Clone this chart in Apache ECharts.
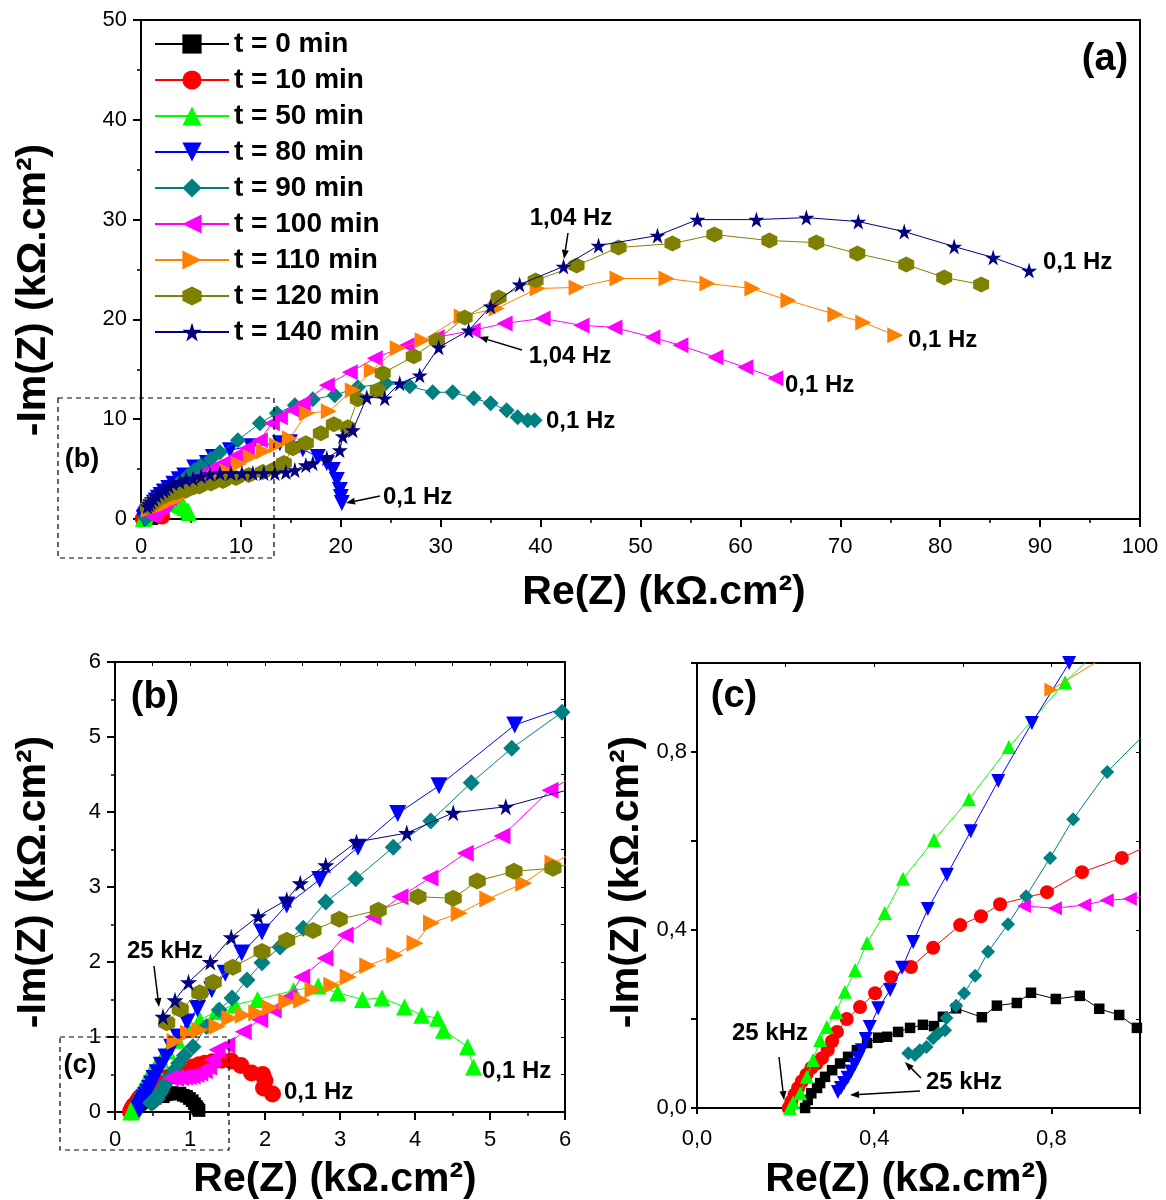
<!DOCTYPE html>
<html><head><meta charset="utf-8">
<script src="https://cdn.jsdelivr.net/npm/echarts@6/dist/echarts.min.js"></script>
<style>html,body{margin:0;padding:0;background:#fff}#c{width:1166px;height:1200px}</style>
</head><body><div id="c"></div>
<script>
const seriesNames = ['t = 0 min','t = 10 min','t = 50 min','t = 80 min','t = 90 min','t = 100 min','t = 110 min','t = 120 min','t = 140 min'];
// [Re(Z), -Im(Z)] in kOhm.cm2, high frequency -> low frequency
const t0 = [[0.244,0],[0.25,0.018],[0.258,0.033],[0.271,0.045],[0.278,0.056],[0.289,0.07],[0.305,0.085],[0.323,0.1],[0.341,0.115],[0.361,0.13],[0.384,0.146],[0.409,0.158],[0.429,0.16],[0.454,0.171],[0.481,0.18],[0.51,0.187],[0.535,0.184],[0.555,0.205],[0.585,0.224],[0.643,0.204],[0.677,0.23],[0.722,0.236],[0.754,0.259],[0.81,0.245],[0.864,0.252],[0.908,0.223],[0.953,0.209],[0.993,0.18],[1.03,0.15],[1.06,0.11],[1.085,0.075],[1.105,0.045],[1.12,0.02]];
const t10 = [[0.207,0],[0.213,0.015],[0.22,0.03],[0.228,0.045],[0.237,0.06],[0.247,0.075],[0.258,0.09],[0.27,0.1],[0.282,0.112],[0.295,0.13],[0.305,0.15],[0.316,0.171],[0.338,0.2],[0.368,0.227],[0.402,0.258],[0.438,0.294],[0.483,0.317],[0.533,0.36],[0.594,0.411],[0.641,0.431],[0.684,0.458],[0.79,0.485],[0.869,0.53],[0.959,0.562],[1.04,0.6],[1.12,0.63],[1.2,0.65],[1.3,0.67],[1.42,0.69],[1.55,0.68],[1.68,0.62],[1.82,0.52],[1.97,0.5],[2.0,0.42],[1.98,0.32],[2.1,0.24]];
const t50 = [[0.21,0],[0.217,0.013],[0.233,0.033],[0.248,0.07],[0.262,0.108],[0.278,0.153],[0.293,0.182],[0.314,0.216],[0.334,0.261],[0.357,0.31],[0.384,0.371],[0.424,0.438],[0.465,0.515],[0.535,0.602],[0.614,0.694],[0.704,0.811],[0.831,0.957],[0.98,1.1],[1.13,1.23],[1.35,1.34],[1.6,1.43],[1.9,1.5],[2.38,1.62],[2.71,1.68],[2.97,1.59],[3.3,1.5],[3.56,1.52],[3.86,1.4],[4.09,1.29],[4.3,1.25],[4.38,1.09],[4.7,0.87],[4.78,0.6]];
const t80 = [[0.318,0.036],[0.325,0.045],[0.332,0.056],[0.34,0.068],[0.348,0.082],[0.356,0.097],[0.364,0.113],[0.372,0.13],[0.381,0.155],[0.39,0.182],[0.409,0.224],[0.436,0.265],[0.463,0.315],[0.488,0.373],[0.521,0.447],[0.564,0.524],[0.618,0.622],[0.68,0.735],[0.756,0.865],[0.84,1.0],[0.96,1.2],[1.1,1.38],[1.29,1.63],[1.47,1.85],[1.69,2.12],[1.96,2.4],[2.29,2.76],[2.73,3.1],[3.24,3.53],[3.77,3.98],[4.32,4.35],[5.33,5.16],[6.6,5.6],[7.2,6.2],[8.9,6.9],[11.0,7.3],[13.9,7.6],[14.9,7.7],[16.2,7.0],[17.7,6.2],[18.6,5.6],[19.2,4.9],[19.6,3.9],[19.9,2.9],[20.0,2.2],[20.1,1.6]];
const t90 = [[0.477,0.123],[0.492,0.119],[0.503,0.13],[0.518,0.137],[0.533,0.157],[0.545,0.168],[0.56,0.175],[0.563,0.202],[0.585,0.23],[0.603,0.258],[0.628,0.297],[0.657,0.351],[0.702,0.413],[0.743,0.476],[0.797,0.562],[0.849,0.649],[0.926,0.755],[1.04,0.87],[1.22,1.14],[1.39,1.36],[1.56,1.52],[1.76,1.76],[1.96,1.99],[2.2,2.2],[2.51,2.45],[2.81,2.8],[3.21,3.11],[3.71,3.53],[4.21,3.88],[4.75,4.39],[5.29,4.85],[5.96,5.33],[7.0,6.0],[7.9,6.7],[9.7,7.9],[11.9,9.6],[13.6,10.6],[15.4,11.4],[17.2,12.0],[19.4,12.4],[21.7,13.2],[24.5,13.6],[26.9,13.3],[29.2,12.7],[31.2,12.7],[33.3,12.1],[35.0,11.6],[36.6,10.9],[37.7,10.2],[38.7,9.9],[39.4,9.9]];
const t100 = [[0.738,0.454],[0.808,0.449],[0.874,0.456],[0.925,0.467],[0.977,0.47],[1.03,0.48],[1.08,0.5],[1.13,0.52],[1.19,0.55],[1.25,0.6],[1.3,0.7],[1.36,0.83],[1.49,0.89],[1.71,1.07],[1.93,1.23],[2.11,1.36],[2.31,1.53],[2.49,1.8],[2.8,2.05],[3.07,2.36],[3.44,2.6],[3.8,2.87],[4.2,3.12],[4.67,3.45],[5.16,3.68],[5.8,4.29],[7.0,5.0],[8.2,5.6],[9.6,6.4],[10.6,7.1],[11.9,7.9],[13.1,9.6],[13.9,10.2],[15.2,10.9],[16.2,11.6],[18.6,13.4],[20.9,14.7],[23.4,16.1],[26.6,17.4],[29.6,18.2],[33.2,18.9],[36.4,19.6],[40.2,20.1],[44.1,19.4],[47.4,19.2],[51.2,18.2],[54.0,17.4],[57.5,16.2],[60.5,15.2],[63.5,14.1]];
const t110 = [[0.80,0.94],[0.98,1.05],[1.13,1.09],[1.36,1.14],[1.53,1.25],[1.71,1.29],[1.89,1.32],[2.07,1.39],[2.29,1.47],[2.49,1.49],[2.64,1.63],[2.89,1.69],[3.11,1.8],[3.37,1.95],[3.73,2.09],[4.0,2.25],[4.22,2.52],[4.59,2.65],[4.97,2.84],[5.45,3.05],[5.84,3.32],[6.6,3.7],[7.5,4.2],[8.6,4.8],[9.8,5.5],[11.0,6.2],[12.3,6.8],[13.6,7.4],[14.9,8.1],[16.6,10.6],[18.8,10.8],[21.2,12.9],[23.1,14.9],[25.7,17.1],[28.2,17.9],[32.1,20.3],[35.6,21.1],[39.7,23.1],[43.6,23.2],[47.7,24.1],[52.6,24.1],[56.7,23.6],[61.2,23.1],[64.8,21.9],[69.5,20.5],[72.3,19.7],[75.5,18.4]];
const t120 = [[0.69,1.19],[0.87,1.37],[1.13,1.59],[1.31,1.73],[1.57,1.93],[1.96,2.14],[2.29,2.29],[2.64,2.42],[2.99,2.57],[3.51,2.69],[4.04,2.87],[4.51,2.85],[4.83,3.08],[5.32,3.21],[5.84,3.25],[7.0,3.55],[8.2,3.8],[9.5,4.1],[10.8,4.4],[12.2,4.7],[13.4,5.0],[14.3,5.6],[15.2,7.1],[16.5,7.6],[18.0,8.6],[19.3,9.5],[20.7,9.2],[21.7,12.0],[23.7,12.9],[24.2,14.6],[27.3,16.3],[29.6,17.9],[32.4,20.2],[35.8,22.2],[39.5,23.9],[43.6,25.4],[47.8,27.2],[53.2,27.6],[57.4,28.5],[62.9,27.9],[67.6,27.7],[71.7,26.6],[76.6,25.5],[80.4,24.2],[84.1,23.5]];
const t140 = [[0.64,1.27],[0.8,1.49],[0.98,1.73],[1.27,2.0],[1.55,2.33],[1.91,2.61],[2.29,2.83],[2.47,3.05],[2.81,3.29],[3.22,3.6],[3.89,3.72],[4.51,3.99],[5.21,4.07],[6.02,4.29],[6.9,4.5],[7.9,4.6],[9.0,4.6],[10.1,4.6],[11.2,4.6],[12.3,4.6],[13.4,4.6],[14.5,4.7],[15.4,4.9],[16.5,5.4],[17.2,5.6],[18.6,6.1],[19.9,6.9],[20.2,8.3],[21.2,8.9],[22.6,12.2],[24.4,12.1],[25.9,13.6],[27.9,14.4],[29.8,17.2],[32.8,18.9],[35.0,21.3],[37.9,23.5],[42.3,25.3],[45.8,27.4],[51.7,28.4],[55.7,30.0],[61.6,30.0],[66.6,30.2],[71.8,29.8],[76.4,28.8],[81.4,27.3],[85.3,26.2],[88.9,24.9]];

// axis ranges [min, max, interval] for panels (a), (b), (c)
const xRanges = [[0,100,10],[0,6,1],[0,1.0,0.2]];
const yRanges = [[0,50,10],[0,6,1],[0,1.0,0.2]];

const allData = [t0,t10,t50,t80,t90,t100,t110,t120,t140];
const colors = ['#000000','#ff0000','#00ff00','#0000ff','#008080','#ff00ff','#ff8000','#808000','#000080'];
const symbols = ['rect','circle','triangle','path://M0,0 L100,0 L50,100 Z','diamond','path://M100,0 L100,100 L0,50 Z','path://M0,0 L0,100 L100,50 Z','path://M50,0 L93,25 L93,75 L50,100 L7,75 L7,25 Z','path://M50,0 L61,35 L98,35 L68,57 L79,91 L50,70 L21,91 L32,57 L2,35 L39,35 Z'];
const symSizes = [16,17,14];

const FF = '"Liberation Sans", Arial, sans-serif';
const grids = [
  {left:141, top:20, width:999, height:499},
  {left:115, top:662, width:450, height:450},
  {left:697, top:663, width:443, height:445}
].map(g => Object.assign({outerBoundsMode:'none', containLabel:false}, g));

function fmt(g){
  if (g === 2) return v => { const k = Math.round(v*10); return (k % 4 === 0 && k < 10) ? (v.toFixed(1).replace('.', ',')) : ''; };
  return v => String(v);
}
const xAxes = [], yAxes = [];
[0,1,2].forEach(g => {
  const xr = xRanges[g], yr = yRanges[g];
  const minorOn = g !== 2;
  xAxes.push({gridIndex:g, type:'value', position:'bottom', min:xr[0], max:xr[1], interval:xr[2],
    axisLine:{show:true, onZero:false, lineStyle:{color:'#000', width:2}},
    axisTick:{show:true, length:g===2?6:8, lineStyle:{color:'#000', width:2}},
    minorTick:{show:minorOn, splitNumber:2, length:4, lineStyle:{color:'#000', width:1.5}},
    axisLabel:{fontSize:22, color:'#000', fontFamily:FF, margin:g===2?20:17, formatter:fmt(g)},
    splitLine:{show:false}});
  yAxes.push({gridIndex:g, type:'value', position:'left', min:yr[0], max:yr[1], interval:yr[2],
    axisLine:{show:true, onZero:false, lineStyle:{color:'#000', width:2}},
    axisTick:{show:true, length:g===2?6:8, lineStyle:{color:'#000', width:2}},
    minorTick:{show:minorOn, splitNumber:2, length:4, lineStyle:{color:'#000', width:1.5}},
    axisLabel:{fontSize:22, color:'#000', fontFamily:FF, margin:g===2?10:14, formatter:fmt(g)},
    splitLine:{show:false}});
});
[0,1,2].forEach(g => {
  const xr = xRanges[g], yr = yRanges[g];
  xAxes.push({gridIndex:g, type:'value', position:'top', min:xr[0], max:xr[1], interval:g===2?xr[2]:xr[2]/2,
    axisLine:{show:true, onZero:false, lineStyle:{color:'#000', width:2}},
    axisTick:{show:g!==0, inside:true, length:4, lineStyle:{color:'#000', width:1}},
    axisLabel:{show:false}, splitLine:{show:false}});
  yAxes.push({gridIndex:g, type:'value', position:'right', min:yr[0], max:yr[1], interval:g===2?yr[2]:yr[2]/2,
    axisLine:{show:true, onZero:false, lineStyle:{color:'#000', width:2}},
    axisTick:{show:g!==0, inside:true, length:4, lineStyle:{color:'#000', width:1}},
    axisLabel:{show:false}, splitLine:{show:false}});
});

const series = [];
[0,1,2].forEach(g => {
  allData.forEach((d, i) => {
    series.push({type:'line', name:seriesNames[i], xAxisIndex:g, yAxisIndex:g, data:d,
      symbol:symbols[i], symbolSize: symSizes[g]*(i===0?0.75:1), showAllSymbol:true, clip:true,
      itemStyle:{color:colors[i], opacity:1}, lineStyle:{color:colors[i], width:1}, z:2+i, animation:false});
  });
});

function txt(x, y, s, size, align, rot){
  const o = {type:'text', x:x, y:y, z:200, style:{text:s, font:'bold '+size+'px '+FF, fill:'#000',
    textAlign:align||'left', textVerticalAlign:'middle', align:align||'left', verticalAlign:'middle'}};
  if (rot) o.rotation = rot;
  return o;
}
function arrow(x1,y1,x2,y2){
  const a = Math.atan2(y2-y1, x2-x1), L = 9, W = 3.5;
  const bx = x2 - L*Math.cos(a), by = y2 - L*Math.sin(a);
  const px = -Math.sin(a), py = Math.cos(a);
  return [
    {type:'line', z:200, shape:{x1:x1, y1:y1, x2:bx, y2:by}, style:{stroke:'#000', lineWidth:1.5}},
    {type:'polygon', z:200, shape:{points:[[x2,y2],[bx+px*W,by+py*W],[bx-px*W,by-py*W]]}, style:{fill:'#000'}}
  ];
}
function dashRect(x,y,w,h){
  return {type:'rect', z:150, shape:{x:x,y:y,width:w,height:h}, style:{fill:'transparent', stroke:'#000', lineWidth:1.2, lineDash:[5,4]}};
}
const graphics = [
  txt(664, 593, 'Re(Z) (kΩ.cm²)', 41, 'center'),
  txt(34, 290, '-Im(Z) (kΩ.cm²)', 41, 'center', Math.PI/2),
  txt(335, 1180, 'Re(Z) (kΩ.cm²)', 41, 'center'),
  txt(34, 882, '-Im(Z) (kΩ.cm²)', 41, 'center', Math.PI/2),
  txt(907, 1180, 'Re(Z) (kΩ.cm²)', 41, 'center'),
  txt(627, 882, '-Im(Z) (kΩ.cm²)', 41, 'center', Math.PI/2),
  txt(1105, 60, '(a)', 38, 'center'),
  txt(155, 698, '(b)', 38, 'center'),
  txt(734, 697, '(c)', 38, 'center'),
  txt(571, 218, '1,04 Hz', 24, 'center'),
  ...arrow(568, 233, 564, 259),
  txt(570, 356, '1,04 Hz', 24, 'center'),
  ...arrow(522, 350, 479, 337),
  txt(1043, 262, '0,1 Hz', 24),
  txt(908, 340, '0,1 Hz', 24),
  txt(785, 385, '0,1 Hz', 24),
  txt(546, 421, '0,1 Hz', 24),
  txt(383, 497, '0,1 Hz', 24),
  ...arrow(380, 496, 346, 503),
  txt(82, 460, '(b)', 27, 'center'),
  dashRect(58, 398, 216, 160),
  txt(165, 951, '25 kHz', 24, 'center'),
  ...arrow(154, 966, 159, 1007),
  txt(284, 1092, '0,1 Hz', 24),
  txt(482, 1071, '0,1 Hz', 24),
  txt(80, 1066, '(c)', 27, 'center'),
  dashRect(60, 1037, 169, 113),
  txt(770, 1033, '25 kHz', 24, 'center'),
  ...arrow(779, 1057, 784, 1100),
  txt(926, 1082, '25 kHz', 24),
  ...arrow(921, 1078, 905, 1062),
  ...arrow(920, 1091, 850, 1095)
];

const chart = echarts.init(document.getElementById('c'), null, {renderer:'canvas'});
chart.setOption({
  animation:false,
  backgroundColor:'#fff',
  grid: grids,
  xAxis: xAxes,
  yAxis: yAxes,
  legend: {show:true, orient:'vertical', left:154, top:30, padding:0, itemWidth:74, itemHeight:24, itemGap:8,
    data: seriesNames, selectedMode:false,
    textStyle:{fontSize:28, fontWeight:'bold', color:'#000', fontFamily:FF}},
  series: series,
  graphic: graphics
});
</script>
</body></html>
